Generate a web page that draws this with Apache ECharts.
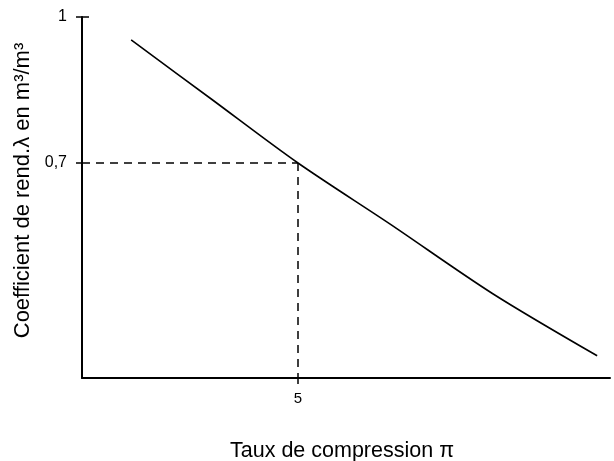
<!DOCTYPE html>
<html>
<head>
<meta charset="utf-8">
<script src="https://cdn.jsdelivr.net/npm/echarts@6/dist/echarts.min.js"></script>
<style>html,body{margin:0;padding:0;background:#fff}#c{width:614px;height:461px}</style>
</head>
<body>
<div id="c"></div>
<script>
// Data
const xValues = [1.91, 3.40, 5.0, 6.70, 8.60, 10.54];
const yValues = [0.953, 0.831, 0.70, 0.575, 0.432, 0.304];
const xTickValues = [5];
const xTickLabels = ['5'];
const yTickValues = [1, 0.7];
const yTickLabels = ['1', '0,7'];
const refPoint = [5, 0.7];
const xRange = [1, 10.778];
const yRange = [0.2583, 1];

const chart = echarts.init(document.getElementById('c'), null, {renderer: 'canvas'});
const font = '"Liberation Sans", Arial, sans-serif';
const lineData = xValues.map((x, i) => [x, yValues[i]]);

chart.setOption({
  animation: false,
  backgroundColor: '#fff',
  grid: {left: 82, top: 17, width: 528, height: 361, outerBoundsMode: 'none', containLabel: false},
  xAxis: {
    type: 'value', min: xRange[0], max: xRange[1],
    name: 'Taux de compression π', nameLocation: 'middle', nameGap: 62,
    nameTextStyle: {fontFamily: font, fontSize: 21.5, color: '#000', padding: [0, 8, 0, 0]},
    axisLine: {show: true, lineStyle: {color: '#000', width: 2}},
    axisTick: {show: true, customValues: xTickValues, length: 6, lineStyle: {color: '#000', width: 1.5}},
    axisLabel: {show: true, customValues: xTickValues, formatter: v => xTickLabels[xTickValues.indexOf(v)] || '',
      fontFamily: font, fontSize: 15, color: '#000', margin: 13},
    splitLine: {show: false}
  },
  yAxis: [{
    type: 'value', min: yRange[0], max: yRange[1],
    name: 'Coefficient de rend.λ en m³/m³', nameLocation: 'middle', nameGap: 47,
    nameTextStyle: {fontFamily: font, fontSize: 22, color: '#000', padding: [0, 0, 0, 14]},
    axisLine: {show: true, lineStyle: {color: '#000', width: 2}},
    axisTick: {show: true, customValues: yTickValues, length: 6, lineStyle: {color: '#000', width: 1.5}},
    axisLabel: {show: true, customValues: yTickValues, formatter: v => yTickLabels[yTickValues.indexOf(v)] || '',
      fontFamily: font, fontSize: 16, color: '#000', margin: 15},
    splitLine: {show: false}
  }, {
    type: 'value', min: yRange[0], max: yRange[1], position: 'left',
    axisLine: {show: false},
    axisTick: {show: true, inside: true, customValues: [yTickValues[0]], length: 7, lineStyle: {color: '#000', width: 1.5}},
    axisLabel: {show: false},
    splitLine: {show: false}
  }],
  series: [{
    type: 'line', data: lineData, smooth: 0.3, symbol: 'none',
    lineStyle: {color: '#000', width: 1.6},
    markLine: {
      silent: true, symbol: 'none', label: {show: false},
      lineStyle: {color: '#000', width: 1.5, type: [8, 6]},
      data: [
        [{coord: [xRange[0], refPoint[1]]}, {coord: [refPoint[0], refPoint[1]]}],
        [{coord: [refPoint[0], refPoint[1]]}, {coord: [refPoint[0], yRange[0]]}]
      ]
    }
  }]
});
</script>
</body>
</html>
